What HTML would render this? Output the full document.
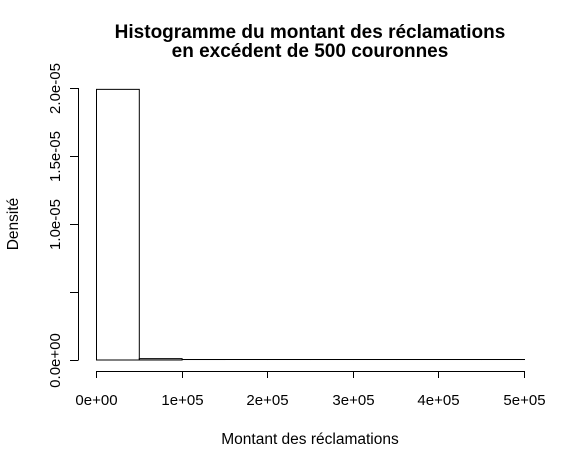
<!DOCTYPE html>
<html><head><meta charset="utf-8"><style>
body{margin:0;background:#fff;}
svg{font-family:"Liberation Sans",Arial,sans-serif;display:block}
</style></head><body>
<svg id="chart" width="581" height="469" viewBox="0 0 581 469">
<text x="310" y="38" text-anchor="middle" font-size="19" font-weight="bold">Histogramme du montant des réclamations</text>
<text x="310" y="57" text-anchor="middle" font-size="19" font-weight="bold">en excédent de 500 couronnes</text>
<text x="310" y="444" text-anchor="middle" font-size="15.5">Montant des réclamations</text>
<text transform="translate(18,224) rotate(-90)" text-anchor="middle" font-size="15.5">Densité</text>
<g id="bars"></g><g id="xaxis"></g><g id="yaxis"></g>
</svg>
<script>
const breaks=[0,50000,100000,150000,200000,250000,300000,350000,400000,450000,500000];
const densities=[1.99e-5,1.0e-7,2e-9,1e-9,5e-10,5e-10,2e-10,2e-10,1e-10,1e-10];
const xTicks=[0,100000,200000,300000,400000,500000];
const xTickLabels=["0e+00","1e+05","2e+05","3e+05","4e+05","5e+05"];
const yTicks=[0,0.5e-5,1.0e-5,1.5e-5,2.0e-5];
const yTickLabels=["0.0e+00","","1.0e-05","1.5e-05","2.0e-05"];
const NS="http://www.w3.org/2000/svg";
const X=v=>96+v*(428/500000);
const Y=v=>360-v*(272/2e-5);
function mk(t,a,p){const e=document.createElementNS(NS,t);for(const k in a)e.setAttribute(k,a[k]);p.appendChild(e);return e;}
const gb=document.getElementById('bars');
densities.forEach((d,i)=>{
 const x0=X(breaks[i]),x1=X(breaks[i+1]),y=Y(d);
 const r=mk('rect',{x:x0+0.5,y:Math.min(y,359.5),width:x1-x0,height:Math.max(360-y,0.01),fill:'none',stroke:'#000','stroke-width':1},gb);
 
 
});
const gx=document.getElementById('xaxis');
const xl=mk('line',{x1:X(0),x2:X(500000),y1:371.5,y2:371.5,stroke:'#000'},gx);


xTicks.forEach((v,i)=>{
 const x=Math.round(X(v))+0.5;
 mk('line',{x1:x,x2:x,y1:371,y2:378,stroke:'#000'},gx);
 const t=mk('text',{x:x,y:405,'text-anchor':'middle','font-size':15},gx);
 t.textContent=xTickLabels[i];
 
 
});
const gy=document.getElementById('yaxis');
const yl=mk('line',{x1:78.5,x2:78.5,y1:Y(0),y2:Y(2e-5),stroke:'#000'},gy);


yTicks.forEach((v,i)=>{
 const y=Math.round(Y(v))+0.5;
 mk('line',{x1:70,x2:78.5,y1:y,y2:y,stroke:'#000'},gy);
 if(yTickLabels[i]){
 const t=mk('text',{transform:`translate(60,${y}) rotate(-90)`,'text-anchor':'middle','font-size':15},gy);
 t.textContent=yTickLabels[i];
 
 
 }
});
</script>
</body></html>
